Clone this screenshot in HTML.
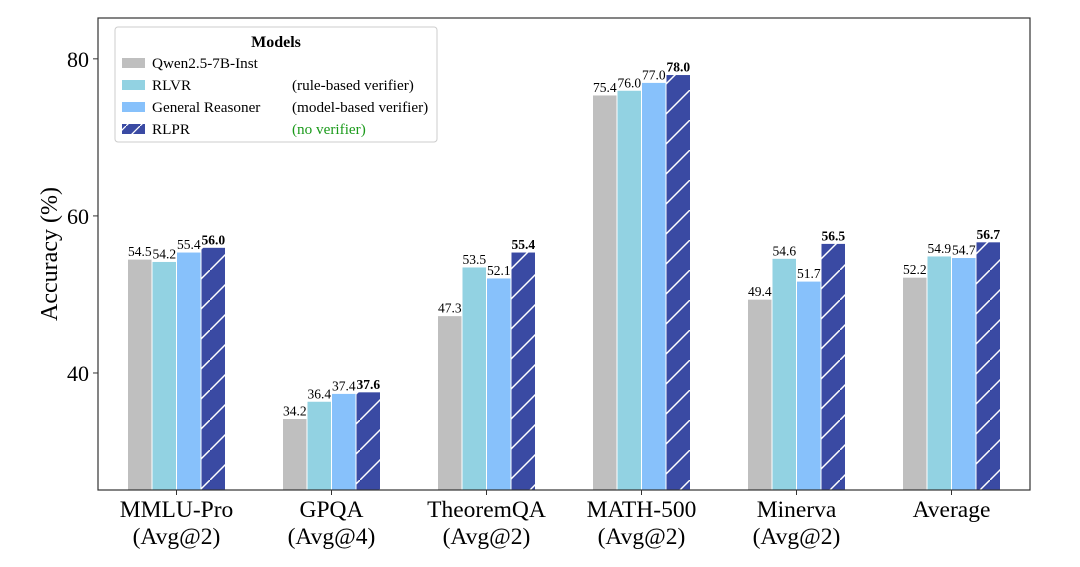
<!DOCTYPE html>
<html><head><meta charset="utf-8"><style>
body{margin:0;background:#fff;}
svg{font-family:"Liberation Serif",serif;}
</style></head><body>
<svg width="1080" height="562">
<defs><pattern id="hatch" patternUnits="userSpaceOnUse" width="30" height="30">
<rect width="30" height="30" fill="#3a4aa3"/><line x1="-2" y1="32" x2="32" y2="-2" stroke="#fff" stroke-width="1.5"/></pattern>
<pattern id="hatchL" patternUnits="userSpaceOnUse" width="14" height="14">
<rect width="14" height="14" fill="#3a4aa3"/><line x1="0" y1="14" x2="14" y2="0" stroke="#fff" stroke-width="1.3"/></pattern></defs>
<g id="plot"></g>
</svg>
<script>
const categories=["MMLU-Pro","GPQA","TheoremQA","MATH-500","Minerva","Average"];
const subLabels=["(Avg@2)","(Avg@4)","(Avg@2)","(Avg@2)","(Avg@2)",""];
const qwen=[54.5,34.2,47.3,75.4,49.4,52.2];
const rlvr=[54.2,36.4,53.5,76.0,54.6,54.9];
const general=[55.4,37.4,52.1,77.0,51.7,54.7];
const rlpr=[56.0,37.6,55.4,78.0,56.5,56.7];
const yTicks=[40,60,80];
const seriesNames=["Qwen2.5-7B-Inst","RLVR","General Reasoner","RLPR"];
const seriesNotes=["","(rule-based verifier)","(model-based verifier)","(no verifier)"];
const NS="http://www.w3.org/2000/svg";
const L=98,R=1030,T=18,B=490,yMin=25.1,yMax=85.2;
const y=v=>B-(v-yMin)/(yMax-yMin)*(B-T);
const xc=i=>176.5+i*155;
const g=document.getElementById('plot');
function mk(t,a,txt){const e=document.createElementNS(NS,t);for(const k in a)e.setAttribute(k,a[k]);if(txt!=null)e.textContent=txt;g.appendChild(e);return e;}
const series=[qwen,rlvr,general,rlpr];
const fills=["#bfbfbf","#92d2e2","#87c1fb","url(#hatch)"];
const bw=24.5;
series.forEach((s,si)=>{s.forEach((v,i)=>{
 const x=xc(i)+(si-2)*bw;
 const r=mk('rect',{x:x,y:y(v),width:bw,height:B-y(v),fill:fills[si],stroke:"#fff","stroke-width":1});
 
 
 const t=mk('text',{x:x+bw/2,y:y(v)-3,"text-anchor":"middle","font-size":13.5,"font-weight":si==3?"bold":"normal",fill:"#000"},v.toFixed(1));
 
 
});});
const fr=mk('rect',{x:L,y:T,width:R-L,height:B-T,fill:"none",stroke:"#333","stroke-width":1.2});


yTicks.forEach(v=>{
 mk('line',{x1:L-5,x2:L,y1:y(v),y2:y(v),stroke:"#333"});
 const t=mk('text',{x:L-9,y:y(v)+8,"text-anchor":"end","font-size":22},v);
 
 
});
categories.forEach((c,i)=>{
 mk('line',{x1:xc(i),x2:xc(i),y1:B,y2:B+5,stroke:"#333"});
 const t=mk('text',{x:xc(i),y:517,"text-anchor":"middle","font-size":23.5},c);
 
 
 if(subLabels[i]){const s=mk('text',{x:xc(i),y:544,"text-anchor":"middle","font-size":23.5},subLabels[i]);
 
 }
});
const yl=mk('text',{x:0,y:0,transform:"translate(57,254) rotate(-90)","text-anchor":"middle","font-size":24},"Accuracy (%)");


// legend
const lb=mk('rect',{x:115,y:27,width:322,height:115,rx:3,fill:"#fff",stroke:"#ccc"});


const lt=mk('text',{x:276,y:47,"text-anchor":"middle","font-size":16,"font-weight":"bold"},"Models");


const lf=["#bfbfbf","#92d2e2","#87c1fb","url(#hatchL)"];
seriesNames.forEach((n,i)=>{
 const yy=63+i*22;
 const sw=mk('rect',{x:122,y:yy-5,width:23,height:10,fill:lf[i]});
 
 
 const t=mk('text',{x:152,y:yy+5,"font-size":15.2},n);
 
 
 if(seriesNotes[i]){const nt=mk('text',{x:292,y:yy+5,"font-size":15.2,fill:i==3?"#1a9a1a":"#000"},seriesNotes[i]);
 
 }
});
</script>
</body></html>
